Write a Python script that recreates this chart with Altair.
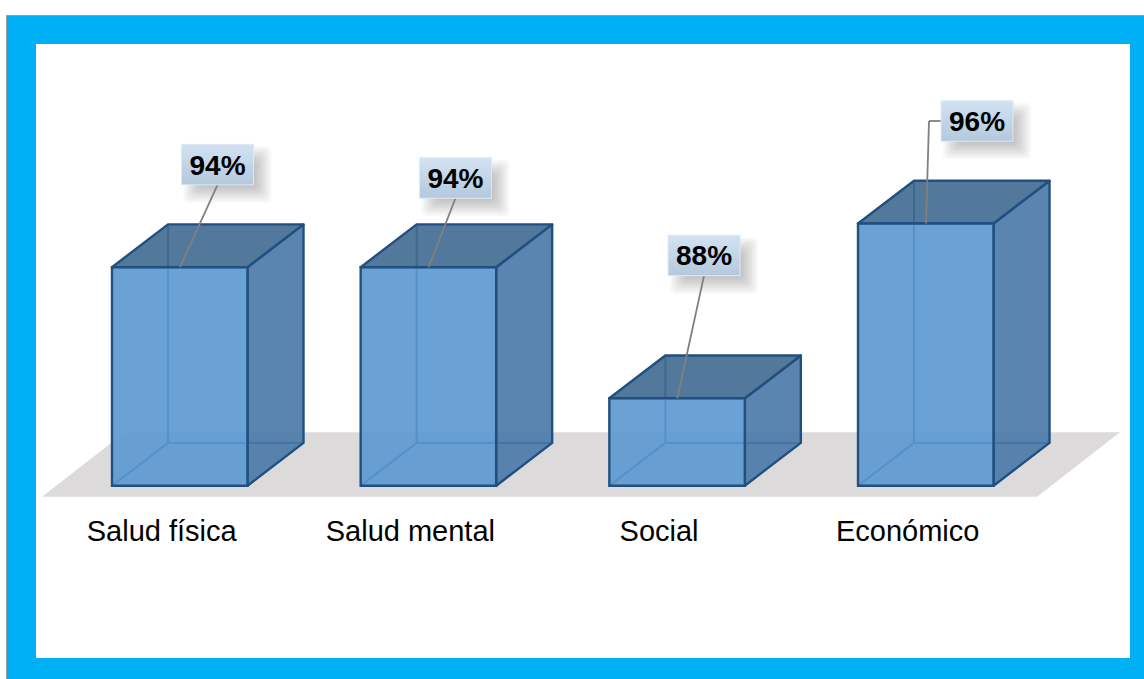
import altair as alt
import pandas as pd

# Survey results by dimension
categories = ["Salud física", "Salud mental", "Social", "Económico"]
values = [94, 94, 88, 96]
value_labels = ["94%", "94%", "88%", "96%"]

# Layout constants, in canvas pixels
W, H = 1144, 679
SLOT = 248.67       # distance between bar left edges
LEFT0 = 112         # left edge of the first bar
BASE_Y = 485.7      # pixel row of the baseline
PX_PER_PCT = 21.85  # vertical pixels per percentage point
BASE_VALUE = 84     # value sitting on the baseline
BAR_W = 135.5
DEPTH_X, DEPTH_Y = 56, 42.8
BOX_W, BOX_H = 72, 40.5
callout_dx = [105.5, 94.8, 94.7, 119]    # box centre, from the bar's left edge
callout_dy = [102.6, 89.2, 142.9, 102.5] # box centre, above the bar's top edge
LEADER_ANCHOR = 68                       # where leaders touch the bar's top edge


def ux(px):
    return px / SLOT


def uy(px):
    return px / PX_PER_PCT


x_scale = alt.Scale(domain=[ux(-LEFT0), ux(W - LEFT0)], range=[0, W], nice=False, zero=False)
y_scale = alt.Scale(domain=[BASE_VALUE - uy(H - BASE_Y), BASE_VALUE + uy(BASE_Y)], range=[H, 0], nice=False, zero=False)


def X(field):
    return alt.X(f"{field}:Q", scale=x_scale, axis=None)


def Y(field):
    return alt.Y(f"{field}:Q", scale=y_scale, axis=None)


# One row per bar, with the corners of its box in scale units
bars = pd.DataFrame({"cat": categories, "value": values, "label": value_labels})
bars["left"] = range(len(bars))
bars["right"] = bars["left"] + ux(BAR_W)
bars["base"] = BASE_VALUE
bars["back_left"] = bars["left"] + ux(DEPTH_X)
bars["back_right"] = bars["right"] + ux(DEPTH_X)
bars["back_top"] = bars["value"] + uy(DEPTH_Y)
bars["back_base"] = BASE_VALUE + uy(DEPTH_Y)
bars["text_x"] = bars["left"] + ux(49.7)
bars["text_y"] = BASE_VALUE - uy(45)
bars["box_cx"] = bars["left"] + [ux(d) for d in callout_dx]
bars["box_cy"] = bars["value"] + [uy(d) for d in callout_dy]
bars["box_l"] = bars["box_cx"] - ux(BOX_W / 2)
bars["box_r"] = bars["box_cx"] + ux(BOX_W / 2)
bars["box_t"] = bars["box_cy"] + uy(BOX_H / 2)
bars["box_b"] = bars["box_cy"] - uy(BOX_H / 2)

# Leader lines: box edge down to the top of the bar; the last one leaves
# the box sideways and then drops
anchor = bars["left"] + ux(LEADER_ANCHOR)
leaders = pd.DataFrame({
    "x": [bars["box_cx"][0], bars["box_cx"][1], bars["box_cx"][2], bars["box_l"][3] - ux(12)],
    "y": [bars["box_b"][0], bars["box_b"][1], bars["box_b"][2], bars["box_cy"][3]],
    "x2": anchor,
    "y2": values,
})
leader_tail = pd.DataFrame({
    "x": [bars["box_l"][3]],
    "x2": [bars["box_l"][3] - ux(12)],
    "y": [bars["box_cy"][3]],
})

# Floor plane under the bars
floor = pd.DataFrame({
    "y": [BASE_VALUE - uy(11), BASE_VALUE + uy(53.4)],
    "x": [ux(42 - LEFT0), ux(125 - LEFT0)],
    "x2": [ux(1037 - LEFT0), ux(1120 - LEFT0)],
})

# Side and top faces need two rows each (front edge, back edge)
side = pd.concat([
    pd.DataFrame({"cat": bars["cat"], "x": bars["right"], "y": bars["value"], "y2": bars["base"]}),
    pd.DataFrame({"cat": bars["cat"], "x": bars["back_right"], "y": bars["back_top"], "y2": bars["back_base"]}),
])
top = pd.concat([
    pd.DataFrame({"cat": bars["cat"], "y": bars["value"], "x": bars["left"], "x2": bars["right"]}),
    pd.DataFrame({"cat": bars["cat"], "y": bars["back_top"], "x": bars["back_left"], "x2": bars["back_right"]}),
])

EDGE = "#21507f"
EDGE_W = 2.4
FACE_OPACITY = 0.9
blank = alt.Data(values=[{}])


def frame_rect(x0, y0, x1, y1, color):
    return alt.Chart(blank).mark_rect(color=color).encode(
        x=alt.value(x0), x2=alt.value(x1), y=alt.value(y0), y2=alt.value(y1)
    )


layers = [
    frame_rect(6, 15, W, H, "#9a9ea3"),
    frame_rect(7, 16, W, H, "#00b0f4"),
    frame_rect(36, 44, 1130, 658, "#ffffff"),
    alt.Chart(floor).mark_area(orient="horizontal", color="#dcdadb").encode(
        y=Y("y"), x=X("x"), x2="x2"
    ),
]

# Hidden edges at the back of each box
back_edges = alt.Chart(bars)
layers += [
    back_edges.mark_rule(color=EDGE, strokeWidth=2).encode(x=X("back_left"), y=Y("back_top"), y2="back_base"),
    back_edges.mark_rule(color=EDGE, strokeWidth=2).encode(x=X("back_left"), x2="back_right", y=Y("back_base")),
    back_edges.mark_rule(color=EDGE, strokeWidth=2).encode(x=X("left"), x2="back_left", y=Y("base"), y2="back_base"),
]

# Visible faces of each box
layers += [
    alt.Chart(side).mark_area(orient="vertical", fill="#4878a7", fillOpacity=FACE_OPACITY, stroke=EDGE, strokeWidth=EDGE_W, strokeJoin="round").encode(
        x=X("x"), y=Y("y"), y2="y2", detail="cat:N"
    ),
    alt.Chart(top).mark_area(orient="horizontal", fill="#3f6a90", fillOpacity=FACE_OPACITY, stroke=EDGE, strokeWidth=EDGE_W, strokeJoin="round").encode(
        y=Y("y"), x=X("x"), x2="x2", detail="cat:N"
    ),
    alt.Chart(bars).mark_rect(fill="#5b98d1", fillOpacity=FACE_OPACITY, stroke=EDGE, strokeWidth=EDGE_W).encode(
        x=X("left"), x2="right", y=Y("value"), y2="base"
    ),
]

# Soft drop shadow behind the callouts: stacked translucent rectangles
for inset in range(-8, 10, 2):
    s = bars.assign(
        sl=bars["box_l"] + ux(10 + inset), sr=bars["box_r"] + ux(10 - inset),
        st=bars["box_t"] - uy(10 + inset), sb=bars["box_b"] - uy(10 - inset),
    )
    layers.append(
        alt.Chart(s).mark_rect(color="#000000", opacity=0.026, cornerRadius=5).encode(
            x=X("sl"), x2="sr", y=Y("st"), y2="sb"
        )
    )

# Leaders, callout boxes and text
layers += [
    alt.Chart(leaders).mark_rule(color="#808080", strokeWidth=1.8).encode(x=X("x"), x2="x2", y=Y("y"), y2="y2"),
    alt.Chart(leader_tail).mark_rule(color="#808080", strokeWidth=1.8).encode(x=X("x"), x2="x2", y=Y("y")),
    alt.Chart(bars).mark_rect(
        fill=alt.Gradient(
            gradient="linear", x1=0, y1=0, x2=0, y2=1,
            stops=[alt.GradientStop(color="#d2e2f2", offset=0), alt.GradientStop(color="#b4c9dd", offset=1)],
        ),
        stroke="#dfe9f4", strokeWidth=1,
    ).encode(x=X("box_l"), x2="box_r", y=Y("box_t"), y2="box_b"),
    alt.Chart(bars).mark_text(font="Liberation Sans", fontWeight="bold", fontSize=28, color="#000000", baseline="middle", dy=2).encode(
        x=X("box_cx"), y=Y("box_cy"), text="label:N"
    ),
    alt.Chart(bars).mark_text(font="Liberation Sans", fontSize=29, color="#000000", baseline="middle", dy=1).encode(
        x=X("text_x"), y=Y("text_y"), text="cat:N"
    ),
]

chart = alt.layer(*layers).properties(
    width=W, height=H, padding=0, background="#ffffff",
    autosize=alt.AutoSizeParams(type="none"),
).configure_view(stroke=None)

chart.save("out.html", embed_options={"renderer": "svg", "actions": False})
